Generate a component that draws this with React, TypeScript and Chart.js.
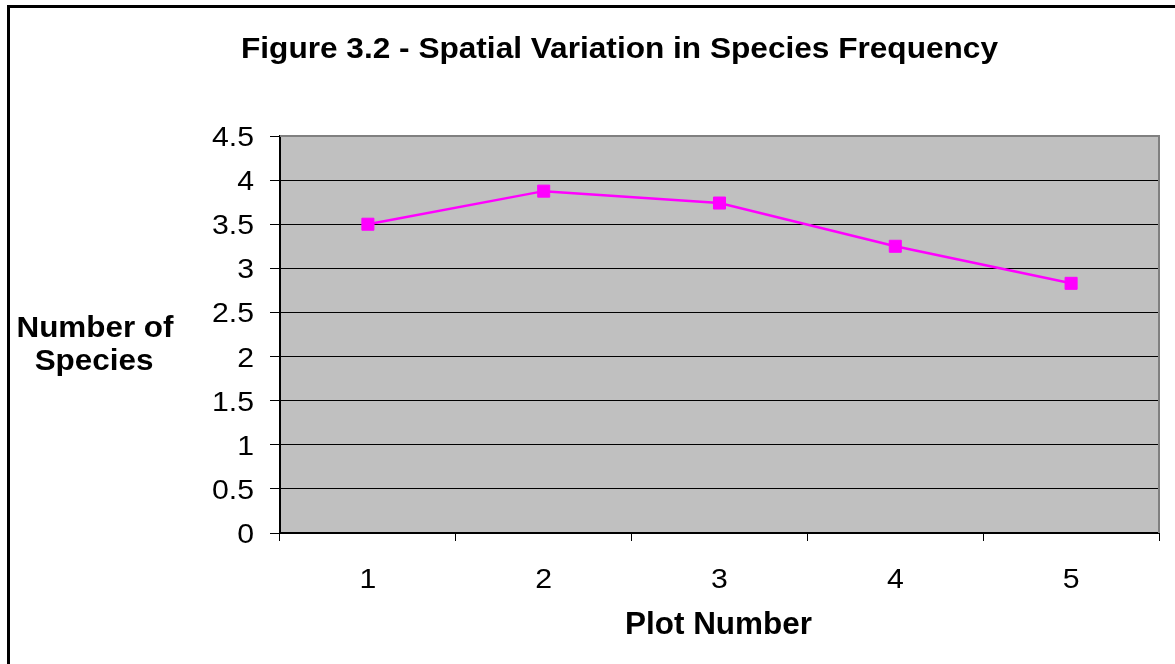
import React, { useEffect, useRef } from "react";
import { Chart, registerables } from "chart.js";

Chart.register(...registerables);

const categories = ["1", "2", "3", "4", "5"];
const speciesCounts = [3.5, 3.875, 3.74, 3.25, 2.83];
const yMin = 0;
const yMax = 4.5;
const yStep = 0.5;
const chartTitle = "Figure 3.2 - Spatial Variation in Species Frequency";
const xAxisTitle = "Plot Number";
const yAxisTitleLines = ["Number of", "Species"];

const FONT = '"Liberation Sans", Arial, sans-serif';

function setFont(ctx: CanvasRenderingContext2D, size: number, bold: boolean) {
  ctx.font = `${bold ? "bold " : ""}${size}px ${FONT}`;
}

function drawText(
  ctx: CanvasRenderingContext2D,
  text: string,
  x: number,
  y: number,
  size: number,
  bold: boolean,
  align: "left" | "center" | "right",
  sx: number
) {
  ctx.save();
  setFont(ctx, size, bold);
  ctx.textBaseline = "alphabetic";
  ctx.textAlign = "left";
  const w = ctx.measureText(text).width * sx;
  const left = align === "center" ? x - w / 2 : align === "right" ? x - w : x;
  ctx.translate(left, y);
  ctx.scale(sx, 1);
  ctx.fillStyle = "#000000";
  ctx.fillText(text, 0, 0);
  ctx.restore();
}

function scaleFor(ctx: CanvasRenderingContext2D, text: string, size: number, bold: boolean, targetW: number) {
  ctx.save();
  setFont(ctx, size, bold);
  const w = ctx.measureText(text).width;
  ctx.restore();
  return targetW / w;
}

const decorPlugin = {
  id: "decor",
  beforeDraw(chart: any) {
    const { ctx, chartArea } = chart;
    ctx.save();
    ctx.fillStyle = "#ffffff";
    ctx.fillRect(0, 0, chart.width, chart.height);
    ctx.fillStyle = "#000000";
    ctx.fillRect(7, 5, chart.width, 3);
    ctx.fillRect(7, 5, 3, chart.height);
    ctx.fillStyle = "#c0c0c0";
    ctx.fillRect(chartArea.left, chartArea.top, chartArea.right - chartArea.left, chartArea.bottom - chartArea.top);
    ctx.restore();
  },
  afterDraw(chart: any) {
    const { ctx, chartArea } = chart;
    const xs = chart.scales.x;
    const ys = chart.scales.y;
    ctx.save();
    ctx.strokeStyle = "#808080";
    ctx.lineWidth = 2;
    ctx.beginPath();
    ctx.moveTo(chartArea.left, chartArea.top);
    ctx.lineTo(chartArea.right, chartArea.top);
    ctx.lineTo(chartArea.right, chartArea.bottom);
    ctx.stroke();
    ctx.restore();

    // y tick labels
    const tickSize = 28;
    const tickSx = scaleFor(ctx, "4.5", tickSize, false, 42);
    ys.ticks.forEach((t: any, i: number) => {
      const py = ys.getPixelForTick(i);
      drawText(ctx, String(t.value), 254, py + (tickSize * 0.716) / 2, tickSize, false, "right", tickSx);
    });
    // x tick labels
    xs.ticks.forEach((t: any, i: number) => {
      const px = xs.getPixelForTick(i);
      const label = xs.getLabelForValue(t.value);
      drawText(ctx, String(label), px, 588, tickSize, false, "center", tickSx);
    });

    // title
    const tSx = scaleFor(ctx, chartTitle, 30, true, 757);
    drawText(ctx, chartTitle, 619.5, 58, 30, true, "center", tSx);

    // y axis title
    const ySx = scaleFor(ctx, yAxisTitleLines[0], 30, true, 157);
    drawText(ctx, yAxisTitleLines[0], 95, 337, 30, true, "center", ySx);
    drawText(ctx, yAxisTitleLines[1], 94, 370, 30, true, "center", ySx);

    // x axis title
    const xSx = scaleFor(ctx, xAxisTitle, 31, true, 187);
    drawText(ctx, xAxisTitle, 718.5, 634, 31, true, "center", xSx);
  },
};

export default function App() {
  const canvasRef = useRef<HTMLCanvasElement | null>(null);

  useEffect(() => {
    const canvas = canvasRef.current;
    if (!canvas) return;
    const chart = new Chart(canvas, {
      type: "line",
      data: {
        labels: categories,
        datasets: [
          {
            label: "Number of Species",
            data: speciesCounts,
            borderColor: "#ff00ff",
            backgroundColor: "#ff00ff",
            borderWidth: 2.5,
            pointStyle: "rect",
            pointRadius: 8.5,
            pointBorderWidth: 1,
            pointBackgroundColor: "#ff00ff",
            pointBorderColor: "#ff00ff",
            tension: 0,
            fill: false,
          },
        ],
      },
      options: {
        responsive: false,
        animation: false,
        events: [],
        layout: { padding: { left: 0, top: 136, right: 16, bottom: 0 } },
        plugins: {
          legend: { display: false },
          title: { display: false },
          tooltip: { enabled: false },
        },
        scales: {
          x: {
            type: "category",
            offset: true,
            grid: {
              offset: true,
              drawOnChartArea: false,
              drawTicks: true,
              tickLength: 8,
              color: "#000000",
              lineWidth: 1,
            },
            border: { display: true, color: "#000000", width: 2 },
            ticks: { display: false },
            afterFit: (s: any) => {
              s.height = 664 - 533;
            },
          },
          y: {
            type: "linear",
            min: yMin,
            max: yMax,
            ticks: { display: false, stepSize: yStep },
            grid: {
              color: "#000000",
              lineWidth: 1,
              drawTicks: true,
              tickLength: 10,
            },
            border: { display: true, color: "#000000", width: 2 },
            afterFit: (s: any) => {
              s.width = 280;
            },
          },
        },
      },
      plugins: [decorPlugin],
    });
    return () => chart.destroy();
  }, []);

  return (
    <div style={{ position: "fixed", left: 0, top: 0, width: 1175, height: 664, background: "#fff" }}>
      <canvas ref={canvasRef} width={1175} height={664} style={{ display: "block" }} />
    </div>
  );
}
